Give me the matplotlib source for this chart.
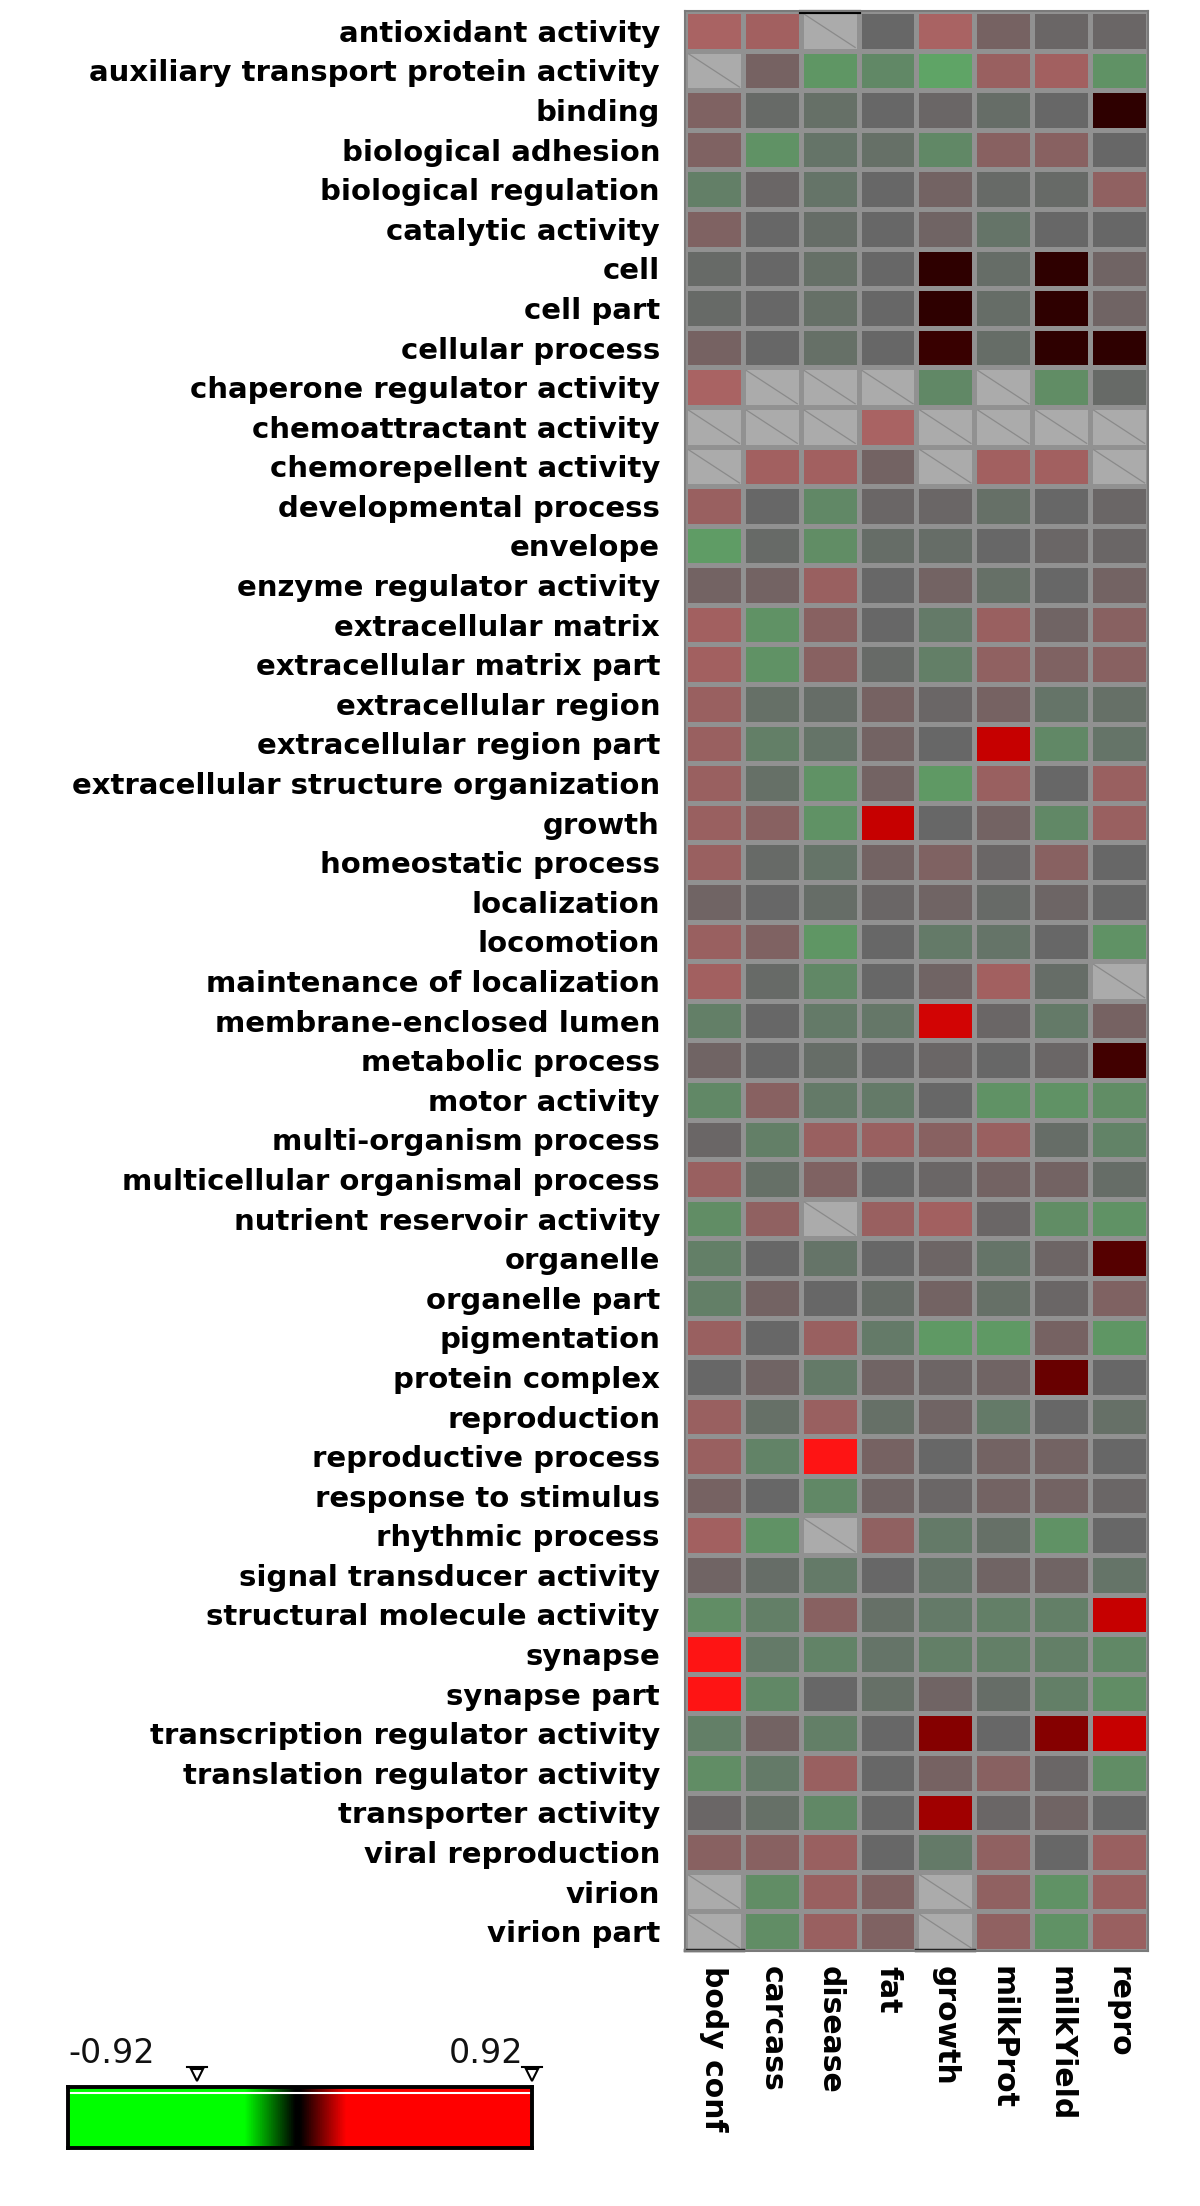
import numpy as np
import matplotlib
matplotlib.use("Agg")
import matplotlib.pyplot as plt
from matplotlib.colors import LinearSegmentedColormap

nan = np.nan

terms = [
    "antioxidant activity", "auxiliary transport protein activity", "binding",
    "biological adhesion", "biological regulation", "catalytic activity", "cell",
    "cell part", "cellular process", "chaperone regulator activity",
    "chemoattractant activity", "chemorepellent activity", "developmental process",
    "envelope", "enzyme regulator activity", "extracellular matrix",
    "extracellular matrix part", "extracellular region", "extracellular region part",
    "extracellular structure organization", "growth", "homeostatic process",
    "localization", "locomotion", "maintenance of localization",
    "membrane-enclosed lumen", "metabolic process", "motor activity",
    "multi-organism process", "multicellular organismal process",
    "nutrient reservoir activity", "organelle", "organelle part", "pigmentation",
    "protein complex", "reproduction", "reproductive process", "response to stimulus",
    "rhythmic process", "signal transducer activity", "structural molecule activity",
    "synapse", "synapse part", "transcription regulator activity",
    "translation regulator activity", "transporter activity", "viral reproduction",
    "virion", "virion part",
]

traits = ["body conf", "carcass", "disease", "fat", "growth", "milkProt", "milkYield", "repro"]

body_conf = [0.55, nan, 0.3, 0.3, -0.35, 0.3, -0.05, -0.05, 0.25, 0.55, nan, nan, 0.45, -0.7,
             0.2, 0.5, 0.5, 0.45, 0.45, 0.45, 0.45, 0.45, 0.15, 0.45, 0.5, -0.35, 0.15, -0.45,
             0.05, 0.45, -0.5, -0.35, -0.35, 0.45, 0.0, 0.45, 0.45, 0.25, 0.5, 0.15, -0.5,
             0.68, 0.68, -0.35, -0.5, 0.05, 0.35, nan, nan]
carcass = [0.5, 0.25, -0.05, -0.55, 0.05, 0.0, 0.0, 0.0, 0.0, nan, nan, 0.5, 0.0, -0.05,
           0.2, -0.55, -0.55, -0.15, -0.35, -0.15, 0.35, -0.05, 0.0, 0.3, -0.05, 0.0, 0.0,
           0.35, -0.35, -0.15, 0.4, 0.0, 0.2, 0.0, 0.15, -0.15, -0.4, 0.0, -0.55, -0.1,
           -0.35, -0.3, -0.45, 0.2, -0.3, -0.15, 0.35, -0.5, -0.5]
disease = [nan, -0.6, -0.15, -0.2, -0.2, -0.1, -0.15, -0.15, -0.15, nan, nan, 0.5, -0.45,
           -0.5, 0.45, 0.35, 0.35, -0.1, -0.2, -0.55, -0.55, -0.2, -0.1, -0.6, -0.45, -0.3,
           -0.1, -0.3, 0.45, 0.3, nan, -0.2, 0.0, 0.45, -0.3, 0.45, 0.68, -0.45, nan, -0.3,
           0.35, -0.4, 0.0, -0.35, 0.45, -0.45, 0.45, 0.45, 0.45]
fat = [0.0, -0.45, 0.0, -0.15, 0.0, 0.0, 0.0, 0.0, 0.0, nan, 0.55, 0.2, 0.05, -0.1, 0.0,
       0.0, -0.05, 0.25, 0.2, 0.2, 0.78, 0.2, 0.05, 0.0, 0.0, -0.25, 0.0, -0.3, 0.45, 0.0,
       0.45, 0.0, -0.1, -0.3, 0.15, -0.15, 0.25, 0.15, 0.4, 0.0, -0.15, -0.2, -0.15, 0.0,
       0.0, 0.0, 0.0, 0.3, 0.3]
growth = [0.55, -0.85, 0.05, -0.45, 0.2, 0.15, 0.92, 0.92, 0.91, -0.45, nan, nan, 0.05,
          -0.1, 0.2, -0.3, -0.35, 0.05, 0.0, -0.65, 0.0, 0.3, 0.15, -0.3, 0.15, 0.76, 0.05,
          0.0, 0.35, 0.05, 0.5, 0.1, 0.2, -0.65, 0.1, 0.15, 0.0, 0.05, -0.3, -0.2, -0.3,
          -0.35, 0.15, 0.85, 0.25, 0.82, -0.3, nan, nan]
milkProt = [0.25, 0.45, -0.1, 0.35, -0.05, -0.2, -0.1, -0.1, -0.1, nan, nan, 0.5, -0.15,
            0.0, -0.15, 0.45, 0.4, 0.25, 0.78, 0.45, 0.2, 0.05, -0.05, -0.2, 0.5, 0.05, 0.0,
            -0.55, 0.45, 0.2, 0.05, -0.2, -0.15, -0.65, 0.15, -0.3, 0.2, 0.2, -0.15, 0.15,
            -0.35, -0.35, -0.1, 0.0, 0.35, 0.05, 0.4, 0.4, 0.4]
milkYield = [0.05, 0.5, 0.0, 0.35, -0.05, 0.0, 0.92, 0.92, 0.92, -0.5, nan, 0.5, 0.0, 0.05,
             0.0, 0.15, 0.3, -0.2, -0.45, 0.0, -0.45, 0.35, 0.1, 0.0, -0.1, -0.3, 0.05,
             -0.55, -0.1, 0.2, -0.5, 0.1, 0.05, 0.25, 0.87, 0.0, 0.2, 0.2, -0.55, 0.15,
             -0.35, -0.35, -0.35, 0.85, 0.05, 0.15, 0.0, -0.55, -0.55]
repro = [0.05, -0.55, 0.92, 0.0, 0.4, 0.0, 0.15, 0.15, 0.92, -0.05, nan, nan, 0.05, 0.05,
         0.2, 0.35, 0.35, -0.15, -0.2, 0.45, 0.45, 0.0, 0.0, -0.55, nan, 0.25, 0.9, -0.5,
         -0.4, -0.1, -0.55, 0.89, 0.3, -0.6, 0.0, -0.15, 0.0, 0.05, 0.0, -0.2, 0.78, -0.45,
         -0.5, 0.78, -0.5, 0.0, 0.45, 0.45, 0.45]

vmin, vmax = -0.92, 0.92
legend_labels = ["-0.92", "0.92"]
slider_values = [-0.41, 0.92]

# ---- colour maps ----
cell_nodes = [
    (-0.92, "#5fa866"), (-0.6, "#5f9664"), (-0.3, "#647a68"), (0.0, "#676767"),
    (0.25, "#766262"), (0.5, "#a26060"), (0.55, "#a86464"), (0.68, "#ff1414"),
    (0.78, "#c80000"), (0.85, "#8c0000"), (0.92, "#2e0000"),
]
cell_cmap = LinearSegmentedColormap.from_list(
    "cells", [((v - vmin) / (vmax - vmin), c) for v, c in cell_nodes])
cell_cmap.set_bad("#ababab")

legend_cmap = LinearSegmentedColormap.from_list(
    "legend", [(0.0, "#00ff00"), (0.38, "#00ff00"), (0.49, "#000000"),
               (0.5, "#000000"), (0.6, "#ff0000"), (1.0, "#ff0000")])

W, H = 1200, 2206
fig = plt.figure(figsize=(W / 100, H / 100), dpi=100)
fig.patch.set_facecolor("white")

columns = [body_conf, carcass, disease, fat, growth, milkProt, milkYield, repro]
data = np.array(columns, dtype=float).T
masked = np.ma.masked_invalid(data)
nrows, ncols = data.shape

ax = fig.add_axes([685 / W, 1 - 1951 / H, 463 / W, 1940 / H])
ax.pcolormesh(np.arange(ncols + 1), np.arange(nrows + 1), masked, cmap=cell_cmap,
              vmin=vmin, vmax=vmax, edgecolors="#919191", linewidth=2.3)
ax.set_xlim(0, ncols)
ax.set_ylim(nrows, 0)

# diagonal marks for missing cells
for i in range(nrows):
    for j in range(ncols):
        if np.isnan(data[i, j]):
            ax.plot([j + 0.06, j + 0.94], [i + 0.08, i + 0.92], color="#8a8a8a", lw=0.9)
            if i == 0:
                ax.plot([j, j + 1], [0.02, 0.02], color="black", lw=3, clip_on=False)
            if i == nrows - 1:
                ax.plot([j, j + 1], [nrows - 0.02, nrows - 0.02], color="#222222", lw=2.5,
                        clip_on=False)

ax.set_yticks(np.arange(nrows) + 0.5)
ax.set_yticklabels(terms, fontsize=21, fontweight="bold", family="DejaVu Sans")
ax.set_xticks(np.arange(ncols) + 0.5)
ax.set_xticklabels(traits, fontsize=21.5, fontweight="bold", family="DejaVu Sans",
                   rotation=270, ha="center", va="top")
ax.tick_params(axis="y", length=0, pad=18)
ax.tick_params(axis="x", length=0, pad=11)
for s in ax.spines.values():
    s.set_color("#7a7a7a")
    s.set_linewidth(1.5)

# ---- legend bar ----
cax = fig.add_axes([68 / W, 1 - 2148 / H, 464 / W, 61 / H])
grad = np.linspace(vmin, vmax, 512)[None, :]
cax.imshow(grad, cmap=legend_cmap, vmin=vmin, vmax=vmax, aspect="auto",
           extent=[vmin, vmax, 0, 1], interpolation="bilinear")
cax.set_xlim(vmin, vmax)
cax.set_ylim(0, 1)
cax.set_xticks([])
cax.set_yticks([])
cax.axhline(0.9, color="white", lw=1.5)
for s in cax.spines.values():
    s.set_color("black")
    s.set_linewidth(2.8)
cax.plot(slider_values, [1.2, 1.2], linestyle="none", marker="v", markersize=9,
         markerfacecolor="white", markeredgecolor="black", markeredgewidth=1.5,
         clip_on=False)
for v in slider_values:
    cax.plot([v - 0.04, v + 0.04], [1.33, 1.33], color="black", lw=1.5, clip_on=False)

fig.text(68 / W, 1 - 2063 / H, legend_labels[0], fontsize=24, family="DejaVu Sans",
         ha="left", va="baseline", color="#111111")
fig.text(523 / W, 1 - 2063 / H, legend_labels[1], fontsize=24, family="DejaVu Sans",
         ha="right", va="baseline", color="#111111")

fig.savefig("out.png", dpi=100, facecolor="white")
